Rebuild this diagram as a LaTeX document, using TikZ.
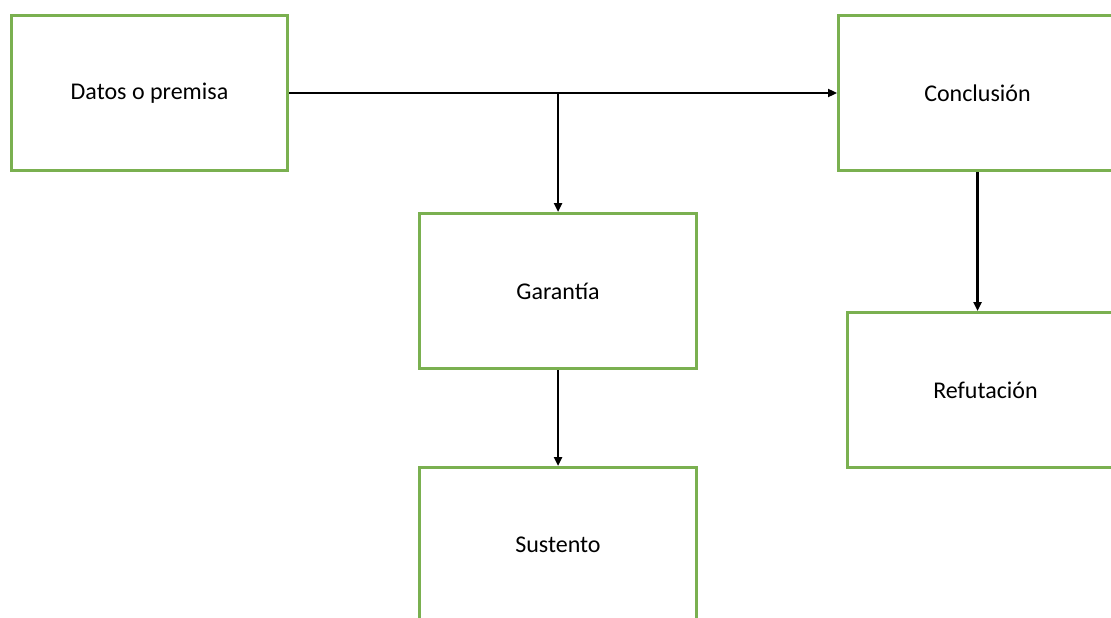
\documentclass[tikz,border=0pt]{standalone}
\usepackage{fontspec}
\setmainfont{Carlito}
\usetikzlibrary{arrows.meta}
\definecolor{boxgreen}{RGB}{122,176,80}
\tikzset{
  box/.style={draw=boxgreen, line width=3pt, fill=white, minimum width=276pt, minimum height=155pt, inner sep=0pt, font=\fontsize{24}{29}\selectfont, anchor=north west, text=black},
  conn/.style={line width=2.5pt, -{Triangle[length=9pt,width=8pt]}}
}
\begin{document}
\begin{tikzpicture}[x=1pt,y=-1pt]
\useasboundingbox (0,0) rectangle (1111,618);
\clip (0,0) rectangle (1111,618);
\fill[white] (0,0) rectangle (1111,618);
\node[box] (datos) at (10,14) {Datos o premisa};
\node[box, minimum width=278pt] (concl) at (837,14) {Conclusión};
\node[box, minimum width=277pt] (gar) at (418,212) {Garantía};
\node[box, minimum width=276pt] (ref) at (846,311) {Refutación};
\node[box, minimum width=277pt] (sus) at (418,466) {Sustento};
\coordinate (j) at (gar.north |- datos.east);
\draw[conn] (datos.east) -- (concl.west);
\draw[conn] (j) -- (gar.north);
\draw[conn] (concl.south) -- (concl.south |- ref.north);
\draw[conn] (gar.south) -- (sus.north);
\end{tikzpicture}
\end{document}
